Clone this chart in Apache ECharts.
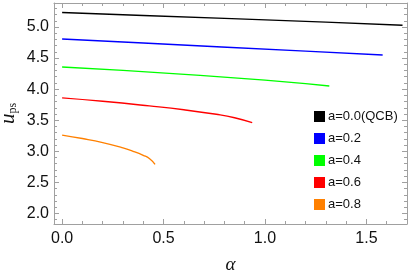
<!DOCTYPE html>
<html>
<head>
<meta charset="utf-8">
<script src="https://cdn.jsdelivr.net/npm/echarts@6/dist/echarts.min.js"></script>
<style>html,body{margin:0;padding:0;background:#fff}#c{width:415px;height:273px}</style>
</head>
<body>
<div id="c"></div>
<script>
// Data
const seriesNames = ['a=0.0(QCB)', 'a=0.2', 'a=0.4', 'a=0.6', 'a=0.8'];
const colors = ['#000000', '#0000ff', '#00ff00', '#ff0000', '#ff8000'];
const alpha00 = [0, 0.4, 0.836, 1.3, 1.678];
const ups00   = [5.232, 5.186, 5.135, 5.078, 5.027];
const alpha02 = [0, 0.4, 0.787, 1.2, 1.58];
const ups02   = [4.807, 4.743, 4.679, 4.612, 4.55];
const alpha04 = [0, 0.3, 0.68, 1.0, 1.2, 1.317];
const ups04   = [4.357, 4.302, 4.222, 4.145, 4.088, 4.05];
const alpha06 = [0, 0.2, 0.43, 0.6, 0.76, 0.85, 0.937];
const ups06   = [3.86, 3.805, 3.73, 3.668, 3.595, 3.54, 3.46];
const alpha08 = [0, 0.1, 0.2, 0.3, 0.35, 0.4, 0.43, 0.458];
const ups08   = [3.26, 3.205, 3.14, 3.055, 3.0, 2.935, 2.885, 2.79];
const xMajorTicks = [0, 0.5, 1.0, 1.5];
const xMinorTicks = [0.1, 0.2, 0.3, 0.4, 0.6, 0.7, 0.8, 0.9, 1.1, 1.2, 1.3, 1.4, 1.6, 1.7];
const yMajorTicks = [2.0, 2.5, 3.0, 3.5, 4.0, 4.5, 5.0];
const yMinorTicks = [1.9, 2.1, 2.2, 2.3, 2.4, 2.6, 2.7, 2.8, 2.9, 3.1, 3.2, 3.3, 3.4, 3.6, 3.7, 3.8, 3.9, 4.1, 4.2, 4.3, 4.4, 4.6, 4.7, 4.8, 4.9, 5.1, 5.2, 5.3];

const xs = [alpha00, alpha02, alpha04, alpha06, alpha08];
const ys = [ups00, ups02, ups04, ups06, ups08];

const X_MIN = -0.04, X_MAX = 1.70, Y_MIN = 1.83, Y_MAX = 5.386;
const frame = '#a0a0a0';

function xAx(pos, ticks, len, showLine, labels) {
  return {
    type: 'value', position: pos, min: X_MIN, max: X_MAX,
    axisLine: {show: showLine, onZero: false, lineStyle: {color: frame, width: 1}},
    axisTick: {show: true, inside: true, length: len, customValues: ticks, lineStyle: {color: frame}},
    axisLabel: labels ? {show: true, customValues: ticks, formatter: v => v.toFixed(1), fontSize: 16, color: '#111', fontFamily: 'Liberation Sans', margin: 7} : {show: false},
    splitLine: {show: false}
  };
}
function yAx(pos, ticks, len, showLine, labels) {
  return {
    type: 'value', position: pos, min: Y_MIN, max: Y_MAX,
    axisLine: {show: showLine, onZero: false, lineStyle: {color: frame, width: 1}},
    axisTick: {show: true, inside: true, length: len, customValues: ticks, lineStyle: {color: frame}},
    axisLabel: labels ? {show: true, customValues: ticks, formatter: v => v.toFixed(1), fontSize: 16, color: '#111', fontFamily: 'Liberation Sans', margin: 5} : {show: false},
    splitLine: {show: false}
  };
}

const xAxes = [
  Object.assign(xAx('bottom', xMajorTicks, 5, true, true), {
    name: 'α', nameLocation: 'middle', nameGap: 31, nameMoveOverlap: false,
    nameTextStyle: {fontFamily: 'Liberation Serif', fontStyle: 'italic', fontSize: 19, color: '#111'}
  }),
  xAx('bottom', xMinorTicks, 3, false, false),
  xAx('top', xMajorTicks, 5, true, false),
  xAx('top', xMinorTicks, 3, false, false)
];
const yAxes = [
  Object.assign(yAx('left', yMajorTicks, 5, true, true), {
    name: '{u|u}{s|ps}', nameLocation: 'middle', nameGap: 35, nameMoveOverlap: false,
    nameTextStyle: {
      rich: {
        u: {fontFamily: 'Liberation Serif', fontStyle: 'italic', fontSize: 21, color: '#111', lineHeight: 22},
        s: {fontFamily: 'Liberation Serif', fontSize: 12, color: '#111', verticalAlign: 'bottom', lineHeight: 22, padding: [7, 0, 0, 0]}
      }
    }
  }),
  yAx('left', yMinorTicks, 3, false, false),
  yAx('right', yMajorTicks, 5, true, false),
  yAx('right', yMinorTicks, 3, false, false)
];

const series = seriesNames.map((n, i) => ({
  name: n, type: 'line', xAxisIndex: 0, yAxisIndex: 0,
  data: xs[i].map((x, k) => [x, ys[i][k]]),
  showSymbol: false, symbol: 'none', smooth: i >= 3 ? 0.5 : false,
  lineStyle: {color: colors[i], width: 1.4},
  itemStyle: {color: colors[i]}
}));

const chart = echarts.init(document.getElementById('c'), null, {renderer: 'canvas'});
chart.setOption({
  animation: false,
  backgroundColor: '#fff',
  grid: {left: 54, right: 8, top: 3, bottom: 49, containLabel: false, outerBoundsMode: 'none'},
  xAxis: xAxes,
  yAxis: yAxes,
  legend: {
    data: seriesNames, orient: 'vertical', left: 309, top: 105,
    icon: 'rect', itemWidth: 11, itemHeight: 11, itemGap: 9,
    textStyle: {fontSize: 13, fontFamily: 'Liberation Sans', color: '#111', padding: [0, 0, 0, -2]}
  },
  series: series
});
</script>
</body>
</html>
